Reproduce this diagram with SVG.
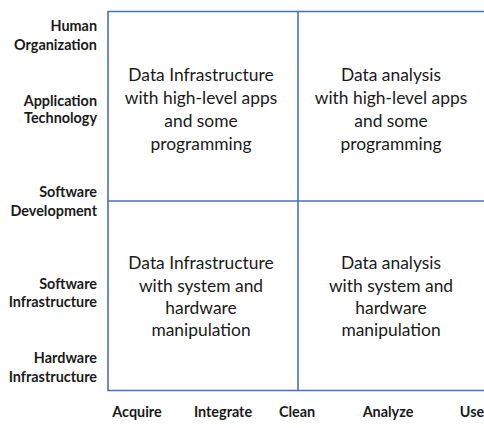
<svg xmlns="http://www.w3.org/2000/svg" width="484" height="428" viewBox="0 0 484 428">
  <style>
    .grid { stroke: #4A6FB5; stroke-width: 1.6; fill: none; }
    .cell { font-family: Lato, "Open Sans", "Liberation Sans", sans-serif; font-size: 17.4px; fill: #1a1a1a; text-anchor: middle; }
    .axis { font-family: Lato, "Open Sans", "Liberation Sans", sans-serif; font-size: 14.4px; font-weight: bold; fill: #1a1a1a; }
    .ylab { text-anchor: end; }
    .xlab { text-anchor: middle; }
  </style>
  <rect width="484" height="428" fill="#ffffff"/>

  <!-- quadrant grid -->
  <g id="connectors">
    <path class="grid" d="M484,11.5 H108 V390.5 H484"/>
    <line class="grid" x1="298" y1="11.5" x2="298" y2="390.5"/>
    <line class="grid" x1="108" y1="201" x2="484" y2="201"/>
  </g>

  <!-- vertical axis: layers of the stack -->
  <g id="y-axis" class="axis ylab">
    <text x="97" y="31">Human</text>
    <text x="97" y="50">Organization</text>
    <text x="97" y="106">Application</text>
    <text x="97" y="123">Technology</text>
    <text x="97" y="197">Software</text>
    <text x="97" y="216">Development</text>
    <text x="97" y="289">Software</text>
    <text x="97" y="307">Infrastructure</text>
    <text x="97" y="363">Hardware</text>
    <text x="97" y="382">Infrastructure</text>
  </g>

  <!-- horizontal axis: pipeline stages -->
  <g id="x-axis" class="axis xlab">
    <text x="137" y="417">Acquire</text>
    <text x="223" y="417">Integrate</text>
    <text x="297" y="417">Clean</text>
    <text x="388" y="417">Analyze</text>
    <text x="472" y="417">Use</text>
  </g>

  <g id="q-top-left" class="cell">
    <text x="201" y="81">Data Infrastructure</text>
    <text x="201" y="104">with high-level apps</text>
    <text x="201" y="127">and some</text>
    <text x="201" y="150">programming</text>
  </g>

  <g id="q-top-right" class="cell">
    <text x="391" y="81">Data analysis</text>
    <text x="391" y="104">with high-level apps</text>
    <text x="391" y="127">and some</text>
    <text x="391" y="150">programming</text>
  </g>

  <g id="q-bottom-left" class="cell">
    <text x="201" y="269">Data Infrastructure</text>
    <text x="201" y="292">with system and</text>
    <text x="201" y="314">hardware</text>
    <text x="201" y="336">manipulation</text>
  </g>

  <g id="q-bottom-right" class="cell">
    <text x="391" y="269">Data analysis</text>
    <text x="391" y="292">with system and</text>
    <text x="391" y="314">hardware</text>
    <text x="391" y="336">manipulation</text>
  </g>
</svg>
